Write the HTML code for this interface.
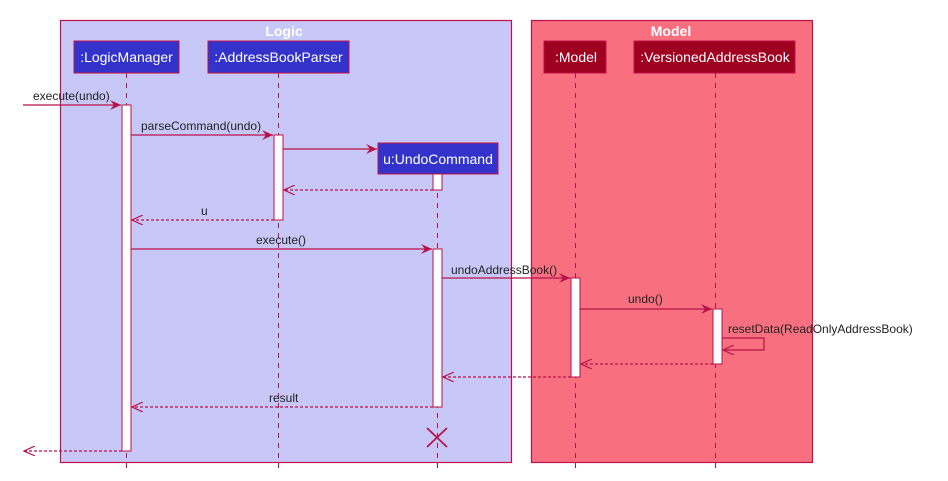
<!DOCTYPE html>
<html><head><meta charset="utf-8"><style>
html,body{margin:0;padding:0;background:#fff;}
svg{display:block;font-family:"Liberation Sans",Arial,sans-serif;}
</style></head><body>
<svg width="948" height="481" viewBox="0 0 948 481" xmlns="http://www.w3.org/2000/svg">
<defs>
<marker id="a" markerWidth="12" markerHeight="10" refX="11" refY="5" orient="auto" markerUnits="userSpaceOnUse">
<path d="M0,0 L11,5 L0,10 L4,5 Z" fill="#b8124a"/></marker>
<marker id="o" markerWidth="12" markerHeight="10" refX="11" refY="5" orient="auto" markerUnits="userSpaceOnUse">
<path d="M0,0 L11,5 L0,10" fill="none" stroke="#b8124a" stroke-width="1.2"/></marker>
</defs>
<!-- boxes -->
<rect x="60.5" y="20.5" width="451" height="442" fill="#c8c8f8" stroke="#c0104a" stroke-width="1.2"/>
<rect x="531.5" y="20.5" width="281" height="442" fill="#f87080" stroke="#c0104a" stroke-width="1.2"/>
<text x="284" y="36" font-size="14" font-weight="bold" fill="#fff" text-anchor="middle">Logic</text>
<text x="671" y="36" font-size="14" font-weight="bold" fill="#fff" text-anchor="middle">Model</text>
<!-- lifelines -->
<g stroke="#b8124a" stroke-width="1" stroke-dasharray="5,5">
<line x1="126.5" y1="73" x2="126.5" y2="470"/>
<line x1="278.5" y1="73" x2="278.5" y2="470"/>
<line x1="437.5" y1="173" x2="437.5" y2="470"/>
<line x1="575.5" y1="73" x2="575.5" y2="470"/>
<line x1="715.5" y1="73" x2="715.5" y2="470"/>
</g>
<!-- participants -->
<g font-size="14" fill="#fff" text-anchor="middle">
<rect x="74" y="41" width="105" height="32" fill="#3333cc" stroke="#c0104a"/>
<text x="126.5" y="62">:LogicManager</text>
<rect x="208" y="41" width="141" height="32" fill="#3333cc" stroke="#c0104a"/>
<text x="278.5" y="62">:AddressBookParser</text>
<rect x="378" y="143" width="120" height="31" fill="#3333cc" stroke="#c0104a"/>
<text x="438" y="164">u:UndoCommand</text>
<rect x="544" y="41" width="62" height="32" fill="#a00020" stroke="#c0104a"/>
<text x="576" y="62">:Model</text>
<rect x="634" y="41" width="161" height="32" fill="#a00020" stroke="#c0104a"/>
<text x="715" y="62">:VersionedAddressBook</text>
</g>
<!-- activations -->
<g fill="#fff" stroke="#b8124a" stroke-width="1">
<rect x="122" y="105" width="9" height="346"/>
<rect x="274" y="135" width="9" height="85"/>
<rect x="433" y="174" width="9" height="16"/>
<rect x="433" y="249" width="9" height="158"/>
<rect x="571" y="278" width="9" height="99"/>
<rect x="713" y="309" width="9" height="55"/>
</g>
<!-- messages -->
<g stroke="#b8124a" stroke-width="1.2" fill="none">
<line x1="23" y1="105" x2="121" y2="105" marker-end="url(#a)"/>
<line x1="131" y1="135" x2="273" y2="135" marker-end="url(#a)"/>
<line x1="283" y1="149" x2="377" y2="149" marker-end="url(#a)"/>
<line x1="433" y1="190" x2="284" y2="190" stroke-dasharray="3,2" marker-end="url(#o)"/>
<line x1="274" y1="220" x2="132" y2="220" stroke-dasharray="3,2" marker-end="url(#o)"/>
<line x1="131" y1="249" x2="432" y2="249" marker-end="url(#a)"/>
<line x1="442" y1="278" x2="570" y2="278" marker-end="url(#a)"/>
<line x1="580" y1="309" x2="712" y2="309" marker-end="url(#a)"/>
<polyline points="722,338 764,338 764,350 723,350" marker-end="url(#o)"/>
<line x1="713" y1="364" x2="581" y2="364" stroke-dasharray="3,2" marker-end="url(#o)"/>
<line x1="571" y1="377" x2="443" y2="377" stroke-dasharray="3,2" marker-end="url(#o)"/>
<line x1="433" y1="407" x2="132" y2="407" stroke-dasharray="3,2" marker-end="url(#o)"/>
<line x1="122" y1="451" x2="24" y2="451" stroke-dasharray="3,2" marker-end="url(#o)"/>
<line x1="427" y1="428" x2="447" y2="447" stroke-width="1.8"/>
<line x1="447" y1="428" x2="427" y2="447" stroke-width="1.8"/>
</g>
<g font-size="12" fill="#222">
<text x="33" y="100">execute(undo)</text>
<text x="141" y="130">parseCommand(undo)</text>
<text x="201" y="215">u</text>
<text x="256" y="244">execute()</text>
<text x="451" y="274">undoAddressBook()</text>
<text x="628" y="303">undo()</text>
<text x="728" y="333">resetData(ReadOnlyAddressBook)</text>
<text x="269" y="402">result</text>
</g>
</svg>
</body></html>
